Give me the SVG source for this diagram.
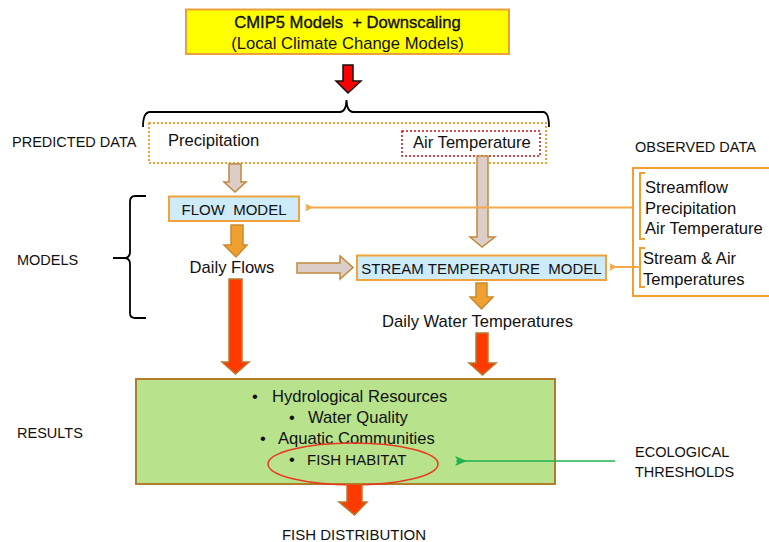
<svg xmlns="http://www.w3.org/2000/svg" width="769" height="542" viewBox="0 0 769 542">
  <style>
    text { font-family: "Liberation Sans", Arial, sans-serif; fill: #111; white-space: pre; }
    .t16 { font-size: 16.6px; }
    .lbl { font-size: 14.5px; }
    .caps { font-size: 15px; }
    .model { fill: #cdebf9; stroke: #f0a33a; stroke-width: 2; }
    .tan { fill: #ddcdc8; stroke: #c08a3a; stroke-width: 1.5; }
    .orange { fill: #f0a030; stroke: #c88a2c; stroke-width: 1.5; }
    .red { fill: #ff3a00; stroke: #b8782e; stroke-width: 1.5; }
    .feed { fill: none; stroke: #f4aa48; stroke-width: 2; }
    .brace { fill: none; stroke: #000; stroke-width: 1.8; }
  </style>
  <defs>
    <marker id="headOrange" markerWidth="8" markerHeight="8" refX="7" refY="4" orient="auto" markerUnits="userSpaceOnUse">
      <path d="M0,4 L8,0 L6,4 L8,8 Z" fill="#f4aa48"/>
    </marker>
    <marker id="headGreen" markerWidth="12" markerHeight="10" refX="11" refY="5" orient="auto" markerUnits="userSpaceOnUse">
      <path d="M0,5 L12,0 L9,5 L12,10 Z" fill="#22b14c"/>
    </marker>
  </defs>

  <!-- climate model source -->
  <g id="cmip5">
    <rect x="186" y="9.5" width="323" height="44.5" fill="#ffff00" stroke="#eca03c" stroke-width="2"/>
    <text class="t16" x="347.5" y="28" text-anchor="middle" stroke="#111" stroke-width="0.35">CMIP5 Models  + Downscaling</text>
    <text class="t16" x="347.5" y="48.5" text-anchor="middle">(Local Climate Change Models)</text>
  </g>

  <!-- side labels -->
  <g id="labels">
    <text class="lbl" x="12" y="147">PREDICTED DATA</text>
    <text class="lbl" x="17" y="265">MODELS</text>
    <text class="lbl" x="17" y="438">RESULTS</text>
    <text class="lbl" x="635" y="152">OBSERVED DATA</text>
    <text class="lbl" x="635" y="457">ECOLOGICAL</text>
    <text class="lbl" x="635" y="477">THRESHOLDS</text>
  </g>

  <!-- predicted data -->
  <g id="predicted">
    <path class="brace" d="M143,127 Q143,112 150,112 L340,112 Q346,112 346.5,100 Q347,112 353,112 L543,112 Q549,112 549,127"/>
    <rect x="149" y="123" width="397" height="40" fill="none" stroke="#f0a030" stroke-width="2" stroke-dasharray="2,2"/>
    <text class="t16" x="168" y="146">Precipitation</text>
    <rect x="402" y="131" width="138" height="25" fill="none" stroke="#d01010" stroke-width="1.5" stroke-dasharray="2,2"/>
    <text class="t16" x="413" y="148">Air Temperature</text>
  </g>

  <!-- models brace -->
  <path class="brace" d="M146,196 L135,196 Q130,196 130,202 L130,252 Q130,258 124,258 L113,258 M124,258 Q130,258 130,264 L130,313 Q130,318 135,318 L146,318"/>

  <g id="flow-model">
    <rect class="model" x="169" y="196.5" width="130" height="24.5"/>
    <text class="caps" x="234" y="215" text-anchor="middle">FLOW  MODEL</text>
  </g>

  <g id="daily-flows">
    <text class="t16" x="232" y="273" text-anchor="middle">Daily Flows</text>
  </g>

  <g id="stream-model">
    <rect class="model" x="357" y="255.5" width="249" height="24.5"/>
    <text class="caps" x="481.5" y="274" text-anchor="middle">STREAM TEMPERATURE  MODEL</text>
  </g>

  <g id="daily-water">
    <text class="t16" x="477.5" y="327" text-anchor="middle">Daily Water Temperatures</text>
  </g>

  <!-- observed data -->
  <g id="observed">
    <path d="M769,168 L633,168 L633,296 L769,296" fill="none" stroke="#f0a030" stroke-width="2"/>
    <path d="M645,173 L640,173 L640,239 L645,239" fill="none" stroke="#f0a030" stroke-width="2"/>
    <path d="M645,248 L640,248 L640,287 L645,287" fill="none" stroke="#f0a030" stroke-width="2"/>
    <text class="t16" x="645" y="193">Streamflow</text>
    <text class="t16" x="645" y="213.5">Precipitation</text>
    <text class="t16" x="645" y="234">Air Temperature</text>
    <text class="t16" x="643" y="264">Stream &amp; Air</text>
    <text class="t16" x="643" y="285">Temperatures</text>
  </g>

  <!-- results -->
  <g id="results">
    <rect x="136" y="379" width="419" height="105" fill="#b8e28c" stroke="#b07d2a" stroke-width="2"/>
    <text class="t16" x="252" y="402">•</text>
    <text class="t16" x="272" y="402">Hydrological Resources</text>
    <text class="t16" x="289" y="423">•</text>
    <text class="t16" x="308" y="423">Water Quality</text>
    <text class="t16" x="260" y="444">•</text>
    <text class="t16" x="278" y="444">Aquatic Communities</text>
    <text class="t16" x="289" y="465">•</text>
    <text class="caps" x="307" y="465">FISH HABITAT</text>
    <ellipse cx="353" cy="464" rx="85" ry="21" fill="none" stroke="#e83a20" stroke-width="1.5"/>
  </g>

  <g id="fish-distribution">
    <text class="caps" x="354" y="540" text-anchor="middle">FISH DISTRIBUTION</text>
  </g>

  <!-- connectors -->
  <g id="connectors">
    <!-- downscaled data into the predicted set -->
    <path d="M343,65 L353,65 L353,81 L361,81 L348,93 L336,81 L343,81 Z" fill="#ff0000" stroke="#111" stroke-width="1.5"/>
    <!-- precipitation to flow model -->
    <path class="tan" d="M229,164 L241,164 L241,182 L246,182 L235,192 L224,182 L229,182 Z"/>
    <!-- air temperature to stream model -->
    <path class="tan" d="M477,156 L488,156 L488,237 L495,237 L482,247 L470,237 L477,237 Z"/>
    <!-- flow model to daily flows -->
    <path class="orange" d="M231,225 L243,225 L243,245 L247,245 L236,257 L224,245 L231,245 Z"/>
    <!-- daily flows to stream model -->
    <path class="tan" d="M297,263 L340,263 L340,256 L353,267.5 L340,279 L340,273 L297,273 Z"/>
    <!-- stream model to daily water temperatures -->
    <path class="orange" d="M476,283 L487,283 L487,297 L493,297 L481.5,309 L470,297 L476,297 Z"/>
    <!-- daily flows to results -->
    <path class="red" d="M229,279 L242,279 L242,362 L249,362 L235.5,374 L222,362 L229,362 Z"/>
    <!-- daily water temperatures to results -->
    <path class="red" d="M476,333 L488,333 L488,363 L496,363 L482.5,375 L469,363 L476,363 Z"/>
    <!-- results to fish distribution -->
    <path class="red" d="M347,484 L362,484 L362,502 L367,502 L354.5,515 L339,502 L347,502 Z"/>
    <!-- observed data feeding the models -->
    <path class="feed" d="M633,207.5 L306,207.5" marker-end="url(#headOrange)"/>
    <path class="feed" d="M640,267 L610,267" marker-end="url(#headOrange)"/>
    <!-- thresholds applied to fish habitat -->
    <path d="M615,461 L456,461" stroke="#22b14c" stroke-width="1.5" fill="none" marker-end="url(#headGreen)"/>
  </g>
</svg>
